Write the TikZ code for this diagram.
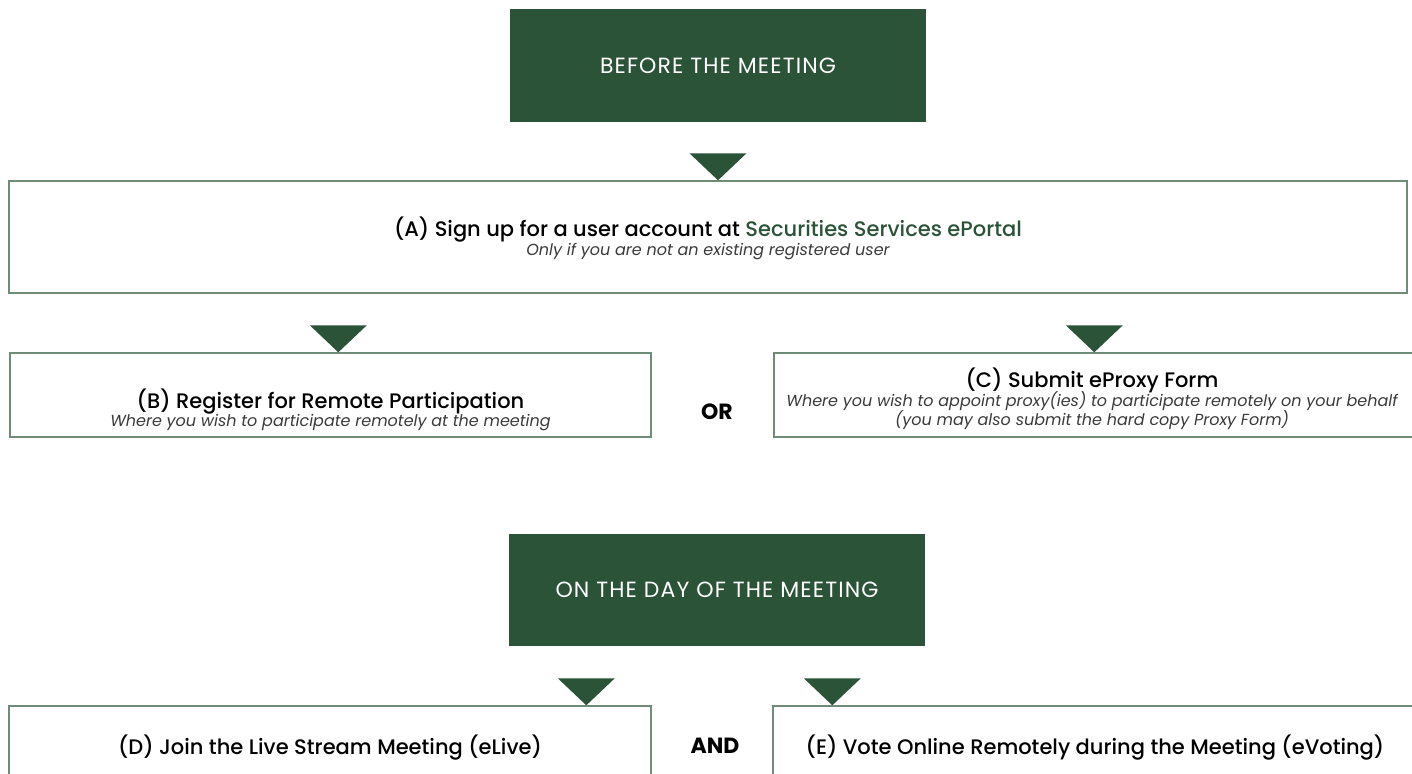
\documentclass[tikz,border=0pt]{standalone}
\usepackage{fontspec}
\setmainfont{Poppins}
\newfontfamily\medfont{Poppins Medium}
\usepackage{tikz}
\usetikzlibrary{positioning,calc}

\definecolor{hdgreen}{HTML}{2B5338}
\definecolor{boxline}{HTML}{6E8C78}
\definecolor{subgray}{HTML}{3A3A3A}

\tikzset{
    headbox/.style={fill=hdgreen, text=white, minimum width=416pt, minimum height=113pt, inner sep=0pt, font=\fontsize{22}{24}\selectfont\addfontfeatures{LetterSpace=5}},
    stepbox/.style={draw=boxline, line width=1.4pt, inner sep=0pt},
    steptitle/.style={anchor=base, inner sep=0pt, font=\medfont\fontsize{21}{23}\selectfont},
    stepnote/.style={anchor=base, inner sep=0pt, text=subgray, font=\itshape\fontsize{16}{18}\selectfont},
    joiner/.style={anchor=base, inner sep=0pt, font=\bfseries\fontsize{22}{24}\selectfont},
    tip/.style={fill=hdgreen}
}
% down-pointing marker, tip at the given point
\newcommand{\downmark}[1]{\fill[tip] ($#1+(-28.5,-27)$) -- ($#1+(28.5,-27)$) -- #1 -- cycle;}

\begin{document}
\begin{tikzpicture}[x=1pt, y=-1pt]
    \useasboundingbox (0,0) rectangle (1412,773);
    \clip (0,0) rectangle (1412,773);

    % Before the meeting
    \node[headbox] (before) at (718,65.5) {BEFORE THE MEETING};

    % Step A
    \node[stepbox, minimum width=1398pt, minimum height=112pt] (boxA) at (708,237) {};
    \node[steptitle] (titleA) at (708,236) {(A) Sign up for a user account at {\color{hdgreen}Securities Services ePortal}};
    \node[stepnote] (noteA) at (708,255) {Only if you are not an existing registered user};
    \downmark{(before.south |- boxA.north)}

    % Step B or C
    \node[stepbox, minimum width=641pt, minimum height=84pt] (boxB) at (330.5,395) {};
    \node[steptitle] (titleB) at (330.5,408) {(B) Register for Remote Participation};
    \node[stepnote] (noteB) at (330.5,426) {Where you wish to participate remotely at the meeting};
    \node[joiner] (or) at (717,419) {OR};
    \node[stepbox, minimum width=644pt, minimum height=84pt] (boxC) at (1096,395) {};
    \node[steptitle] (titleC) at (1092,387) {(C) Submit eProxy Form};
    \node[stepnote] (noteC) at (1092,406) {Where you wish to appoint proxy(ies) to participate remotely on your behalf};
    \node[stepnote] (noteC2) at (1092,425) {(you may also submit the hard copy Proxy Form)};
    \downmark{($(boxB.north west)+(329,0)$)}
    \downmark{($(boxC.north west)+(321,0)$)}

    % On the day of the meeting
    \node[headbox, minimum height=112pt] (onday) at (717,590) {ON THE DAY OF THE MEETING};

    % Step D and E
    \node[stepbox, minimum width=642pt, minimum height=100pt] (boxD) at (330,756) {};
    \node[steptitle] (titleD) at (330,754) {(D) Join the Live Stream Meeting (eLive)};
    \node[joiner] (and) at (715,753) {AND};
    \node[stepbox, minimum width=645pt, minimum height=100pt] (boxE) at (1095.5,756) {};
    \node[steptitle] (titleE) at (1095,754) {(E) Vote Online Remotely during the Meeting (eVoting)};
    \downmark{($(boxD.north west)+(578,0)$)}
    \downmark{($(boxE.north west)+(60,0)$)}
\end{tikzpicture}
\end{document}
